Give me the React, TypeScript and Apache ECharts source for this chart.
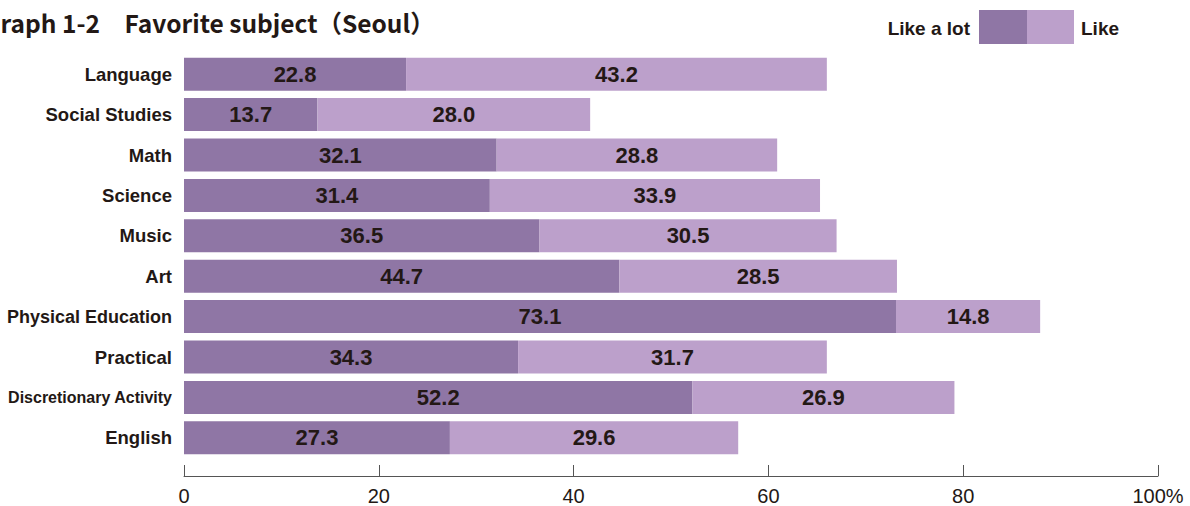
import React, { useEffect, useRef } from "react";
import * as echarts from "echarts";

const categories = [
  "Language",
  "Social Studies",
  "Math",
  "Science",
  "Music",
  "Art",
  "Physical Education",
  "Practical",
  "Discretionary Activity",
  "English",
];
const likeALot = [22.8, 13.7, 32.1, 31.4, 36.5, 44.7, 73.1, 34.3, 52.2, 27.3];
const like = [43.2, 28.0, 28.8, 33.9, 30.5, 28.5, 14.8, 31.7, 26.9, 29.6];
const seriesNames = ["Like a lot", "Like"];
const xTicks = [0, 20, 40, 60, 80, 100];

const DARK = "#8F76A5";
const LIGHT = "#BCA0CB";
const TEXT = "#231815";
const FONT = "'Liberation Sans', Arial, sans-serif";
const NARROW = "'Liberation Sans Narrow', 'Liberation Sans', Arial, sans-serif";
const TITLE_FONT = "'Noto Sans CJK JP', 'Noto Sans', sans-serif";

export default function App() {
  const ref = useRef<HTMLDivElement>(null);
  useEffect(() => {
    if (!ref.current) return;
    const chart = echarts.init(ref.current, undefined, { renderer: "svg" });
    const label = {
      show: true,
      position: "inside",
      color: TEXT,
      fontSize: 22,
      fontWeight: "bold",
      fontFamily: FONT,
      formatter: (p: any) => Number(p.value).toFixed(1),
    };
    chart.setOption({
      animation: false,
      backgroundColor: "#ffffff",
      grid: { left: 184, right: 32, top: 54, bottom: 48 },
      xAxis: {
        type: "value",
        min: 0,
        max: 100,
        interval: 20,
        offset: 18,
        splitLine: { show: false },
        axisLine: { show: true, lineStyle: { color: "#555", width: 1 } },
        axisTick: { show: true, inside: true, length: 11, lineStyle: { color: "#555" } },
        axisLabel: {
          color: TEXT,
          fontSize: 20,
          fontFamily: NARROW,
          margin: 10,
          formatter: (v: number) => (v === 100 ? "100%" : String(v)),
          customValues: xTicks,
        },
      },
      yAxis: {
        type: "category",
        data: categories,
        inverse: true,
        axisLine: { show: false },
        axisTick: { show: false },
        axisLabel: {
          color: TEXT,
          fontSize: 18.5,
          fontWeight: "bold",
          fontFamily: FONT,
          margin: 12,
          formatter: (v: string) =>
            v === "Discretionary Activity"
              ? `{s|${v}}`
              : v === "Physical Education"
              ? `{p|${v}}`
              : v,
          rich: {
            s: {
              color: TEXT,
              fontSize: 16,
              fontWeight: "bold",
              fontFamily: FONT,
            },
            p: {
              color: TEXT,
              fontSize: 18,
              fontWeight: "bold",
              fontFamily: FONT,
            },
          },
        },
      },
      series: [
        {
          name: seriesNames[0],
          type: "bar",
          stack: "total",
          data: likeALot,
          barWidth: 33,
          itemStyle: { color: DARK },
          label,
        },
        {
          name: seriesNames[1],
          type: "bar",
          stack: "total",
          data: like,
          barWidth: 33,
          itemStyle: { color: LIGHT },
          label,
        },
      ],
      graphic: [
        {
          type: "text",
          x: -17,
          y: 22,
          style: {
            text: "Graph 1-2\u3000Favorite subject（Seoul）",
            fill: TEXT,
            font: `bold 24.5px ${TITLE_FONT}`,
            verticalAlign: "middle",
          },
        },
        {
          type: "text",
          x: 970,
          y: 28,
          style: {
            text: seriesNames[0],
            fill: TEXT,
            font: `bold 19px ${FONT}`,
            align: "right",
            verticalAlign: "middle",
          },
        },
        { type: "rect", shape: { x: 979, y: 10, width: 48, height: 34 }, style: { fill: DARK } },
        { type: "rect", shape: { x: 1027, y: 10, width: 47, height: 34 }, style: { fill: LIGHT } },
        {
          type: "text",
          x: 1081,
          y: 28,
          style: {
            text: seriesNames[1],
            fill: TEXT,
            font: `bold 19px ${FONT}`,
            align: "left",
            verticalAlign: "middle",
          },
        },
      ],
    });
    return () => chart.dispose();
  }, []);
  return (
    <div
      ref={ref}
      style={{ position: "fixed", left: 0, top: 0, width: 1190, height: 506 }}
    />
  );
}
